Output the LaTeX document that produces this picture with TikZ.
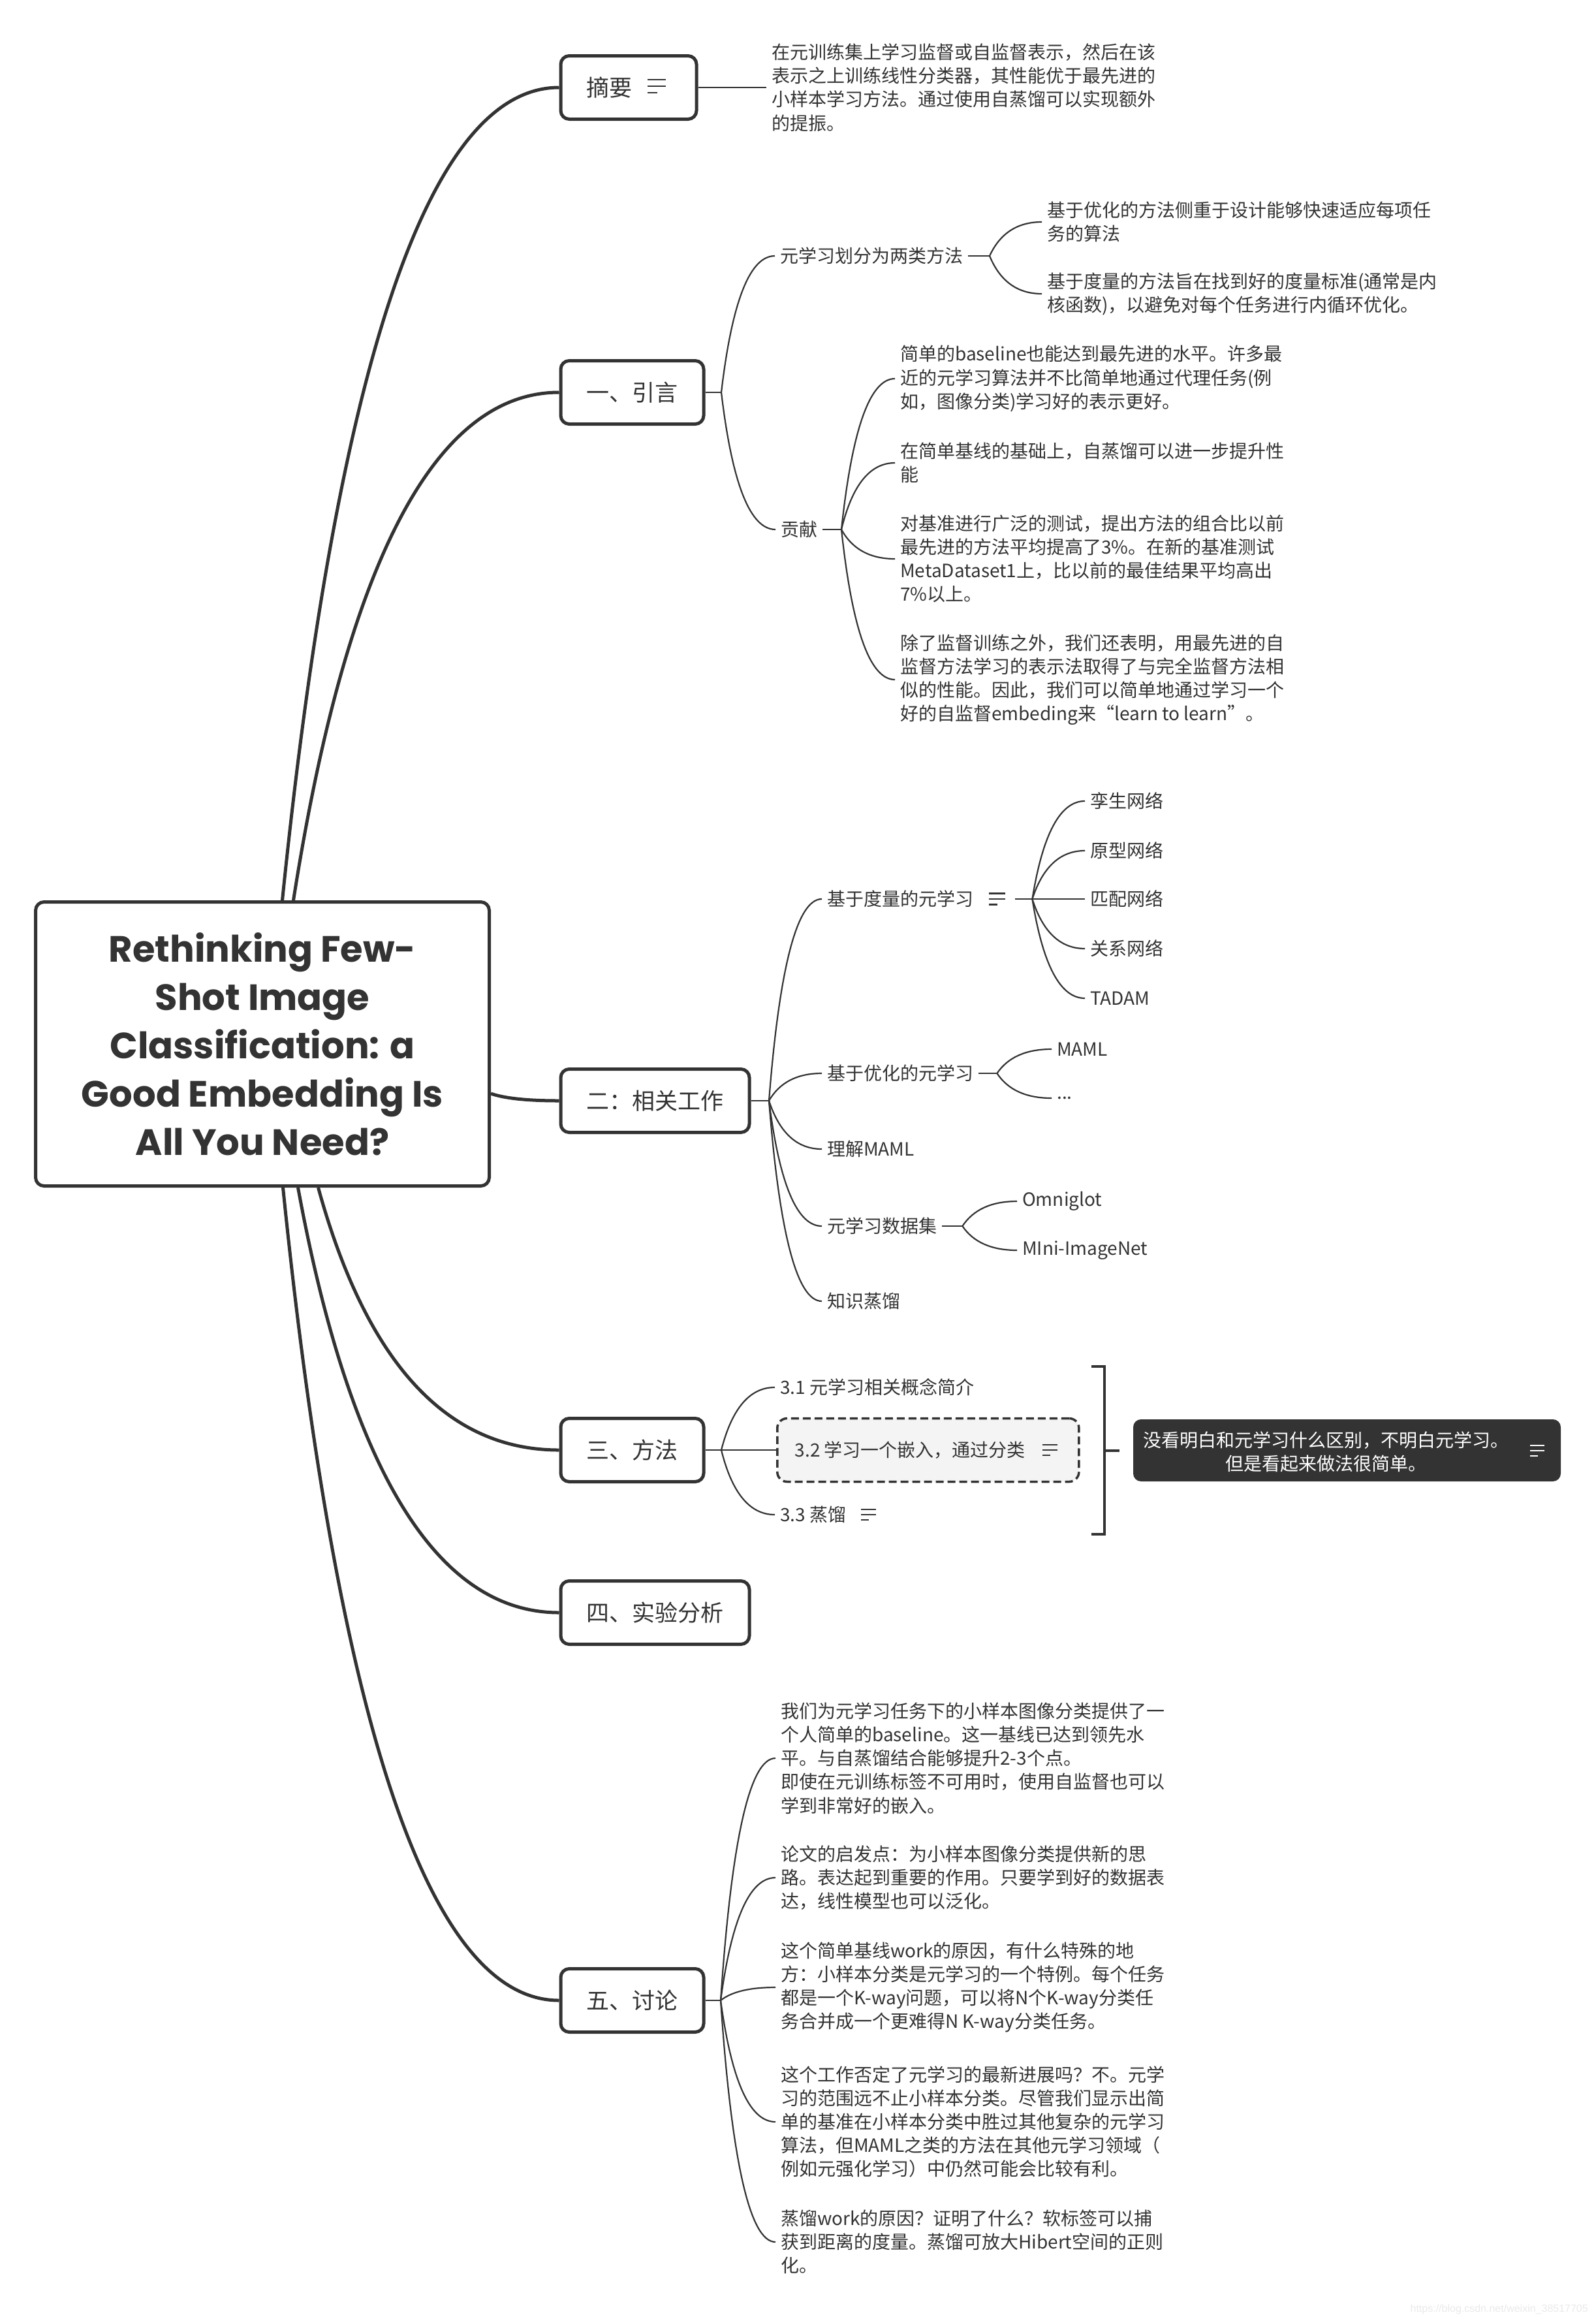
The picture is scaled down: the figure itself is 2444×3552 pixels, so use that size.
\documentclass[tikz,border=0pt]{standalone}
\usepackage{fontspec}
\setmainfont{Noto Sans CJK SC}
\newfontfamily\titlefont{Poppins}
\newfontfamily\wmfont{Liberation Sans}
\usetikzlibrary{calc}
\definecolor{ink}{HTML}{333333}
\definecolor{boxfill}{HTML}{F4F4F4}
\definecolor{wm}{HTML}{EAEAEA}
\begin{document}
\begin{tikzpicture}[x=1pt,y=-1pt,
  every node/.style={text=ink},
  rootbox/.style={draw=ink, line width=5pt, rounded corners=13pt, fill=white, minimum width=695pt, minimum height=435pt, align=center, font=\titlefont\bfseries\fontsize{56}{74}\selectfont, inner sep=0pt},
  topicbox/.style={draw=ink, line width=5pt, rounded corners=13pt, fill=white, minimum height=97pt, inner xsep=39.5pt, inner ysep=0pt, anchor=west, font=\fontsize{35}{42}\selectfont},
  leaf/.style={anchor=west, align=left, inner xsep=8pt, inner ysep=0pt, font=\fontsize{28}{36.2}\selectfont},
  dashbox/.style={draw=ink, dashed, dash pattern=on 12pt off 6pt, line width=3.5pt, rounded corners=15pt, fill=boxfill, minimum height=97pt, inner xsep=27pt, anchor=west, font=\fontsize{28}{36.2}\selectfont},
  sumbox/.style={fill=ink, draw=none, rounded corners=12pt, minimum width=655pt, minimum height=95pt},
  sumtext/.style={text=white, align=center, inner sep=0pt, font=\fontsize{28}{36.2}\selectfont},
  thickline/.style={draw=ink, line width=5pt},
  thinline/.style={draw=ink, line width=2.2pt},
  bracketline/.style={draw=ink, line width=4pt},
  branch/.style={to path={let \p1=(\tikztostart), \p2=(\tikztotarget) in .. controls ({\x1+0.2*(\x2-\x1)},{\y1+0.667*(\y2-\y1)}) and ({\x2-0.467*(\x2-\x1)},{\y2}) .. (\tikztotarget)}},
  noteicon/.pic={\draw[line width=2.7pt] (-14,-10)--(14,-10) (-14,0)--(14,0) (-14,10)--(1,10);}
]
\fill[white] (0,0) rectangle (2444,3552);
\useasboundingbox (0,0) rectangle (2444,3552);

% root
\node[rootbox] (root) at (402,1599) {Rethinking Few-\\Shot Image\\Classification: a\\Good Embedding Is\\All You Need?};

% topics
\node[topicbox] (abs) at (856.5,134) {摘要\hspace*{59pt}\mbox{}};
\node[topicbox] (intro) at (856.5,601) {一、引言};
\node[topicbox] (rel) at (856.5,1686) {二：相关工作};
\node[topicbox] (meth) at (856.5,2221) {三、方法};
\node[topicbox] (exp) at (856.5,2470) {四、实验分析};
\node[topicbox] (disc) at (856.5,3064) {五、讨论};
\pic[ink] at (1006,132) {noteicon};

% root connectors
\coordinate (rt1) at ($(root.north west)+(380.5,0)$);
\coordinate (rt2) at ($(root.north west)+(397.5,0)$);
\coordinate (rr) at ($(root.east)+(0,76)$);
\coordinate (rb3) at ($(root.south west)+(435.5,0)$);
\coordinate (rb4) at ($(root.south west)+(404.5,0)$);
\coordinate (rb5) at ($(root.south west)+(381.5,0)$);
\draw[thickline] (rt1) to[branch] (abs.west);
\draw[thickline] (rt2) to[branch] (intro.west);
\draw[thickline] (rr) to[branch] (rel.west);
\draw[thickline] (rb3) to[branch] (meth.west);
\draw[thickline] (rb4) to[branch] (exp.west);
\draw[thickline] (rb5) to[branch] (disc.west);

% abstract
\node[leaf] (absT) at (1174,134) {在元训练集上学习监督或自监督表示，然后在该\\表示之上训练线性分类器，其性能优于最先进的\\小样本学习方法。通过使用自蒸馏可以实现额外\\的提振。};
\draw[thinline] (abs.east) -- (absT.west);

% intro
\coordinate (fi) at (1105,601);
\draw[thinline] (intro.east) -- (fi);
\node[leaf] (c11) at (1187,392) {元学习划分为两类方法};
\node[leaf] (c12) at (1188,811) {贡献};
\draw[thinline] (fi) to[branch] (c11.west);
\draw[thinline] (fi) to[branch] (c12.west);
\coordinate (f11) at (1516,392);
\draw[thinline] (c11.east) -- (f11);
\node[leaf] (c111) at (1596,340) {基于优化的方法侧重于设计能够快速适应每项任\\务的算法};
\node[leaf] (c112) at (1596,450) {基于度量的方法旨在找到好的度量标准(通常是内\\核函数)，以避免对每个任务进行内循环优化。};
\draw[thinline] (f11) to[branch] (c111.west);
\draw[thinline] (f11) to[branch] (c112.west);
\coordinate (f12) at (1289,811);
\draw[thinline] (c12.east) -- (f12);
\node[leaf] (c121) at (1371,580) {简单的baseline也能达到最先进的水平。许多最\\近的元学习算法并不比简单地通过代理任务(例\\如，图像分类)学习好的表示更好。};
\node[leaf] (c122) at (1371,709) {在简单基线的基础上，自蒸馏可以进一步提升性\\能};
\node[leaf] (c123) at (1371,856) {对基准进行广泛的测试，提出方法的组合比以前\\最先进的方法平均提高了3\%。在新的基准测试\\MetaDataset1上，比以前的最佳结果平均高出\\7\%以上。};
\node[leaf] (c124) at (1371,1041) {除了监督训练之外，我们还表明，用最先进的自\\监督方法学习的表示法取得了与完全监督方法相\\似的性能。因此，我们可以简单地通过学习一个\\好的自监督embeding来“learn to learn”。};
\foreach \c in {c121,c122,c123,c124} {\draw[thinline] (f12) to[branch] (\c.west);}

% related work
\coordinate (fr) at (1178,1686);
\draw[thinline] (rel.east) -- (fr);
\node[leaf] (r1) at (1259,1377) {基于度量的元学习};
\node[leaf] (r2) at (1259,1644) {基于优化的元学习};
\node[leaf] (r3) at (1259,1760) {理解MAML};
\node[leaf] (r4) at (1259,1878) {元学习数据集};
\node[leaf] (r5) at (1259,1993) {知识蒸馏};
\foreach \r in {r1,r2,r3,r4,r5} {\draw[thinline] (fr) to[branch] (\r.west);}
\pic[ink, scale=0.88] at ($(r1.east)+(28,0)$) {noteicon};
\coordinate (r1s) at ($(r1.east)+(56,0)$);
\coordinate (fr1) at ($(r1.east)+(82,0)$);
\draw[thinline] (r1s) -- (fr1);
\node[leaf] (r11) at (1662,1227) {孪生网络};
\node[leaf] (r12) at (1662,1303) {原型网络};
\node[leaf] (r13) at (1662,1377) {匹配网络};
\node[leaf] (r14) at (1662,1453) {关系网络};
\node[leaf] (r15) at (1662,1529) {TADAM};
\foreach \c in {r11,r12,r13,r14,r15} {\draw[thinline] (fr1) to[branch] (\c.west);}
\coordinate (fr2) at ($(r2.east)+(28,0)$);
\draw[thinline] (r2.east) -- (fr2);
\node[leaf] (r21) at (1611,1607) {MAML};
\node[leaf] (r22) at (1611,1682) {...};
\draw[thinline] (fr2) to[branch] (r21.west);
\draw[thinline] (fr2) to[branch] (r22.west);
\coordinate (fr4) at ($(r4.east)+(31,0)$);
\draw[thinline] (r4.east) -- (fr4);
\node[leaf] (r41) at (1558,1840) {Omniglot};
\node[leaf] (r42) at (1558,1915) {MIni-ImageNet};
\draw[thinline] (fr4) to[branch] (r41.west);
\draw[thinline] (fr4) to[branch] (r42.west);

% method
\coordinate (fm) at (1105,2221);
\draw[thinline] (meth.east) -- (fm);
\node[leaf] (m1) at (1187,2125) {3.1 元学习相关概念简介};
\node[dashbox] (m2) at (1189,2221) {3.2 学习一个嵌入，通过分类\hspace*{55pt}\mbox{}};
\node[leaf] (m3) at (1187,2320) {3.3 蒸馏};
\draw[thinline] (fm) to[branch] (m1.west);
\draw[thinline] (fm) -- (m2.west);
\draw[thinline] (fm) to[branch] (m3.west);
\pic[ink, scale=0.8] at ($(m2.east)+(-46,0)$) {noteicon};
\pic[ink, scale=0.8] at ($(m3.east)+(26,0)$) {noteicon};
\coordinate (bt) at (1692,2093);
\coordinate (bb) at (1692,2350);
\draw[bracketline] ($(bt)+(-20,0)$) -- (bt) -- (bb) -- ($(bb)+(-20,0)$);
\draw[bracketline] (1692,2222) -- (1715,2222);
\node[sumbox] (summary) at (2063.5,2221.5) {};
\node[sumtext] (sumT) at (2031,2224) {没看明白和元学习什么区别，不明白元学习。\\但是看起来做法很简单。};
\pic[white, scale=0.8] at (2355,2222) {noteicon};

% discussion
\coordinate (fd) at (1104,3064);
\draw[thinline] (disc.east) -- (fd);
\node[leaf] (d1) at (1188,2693) {我们为元学习任务下的小样本图像分类提供了一\\个人简单的baseline。这一基线已达到领先水\\平。与自蒸馏结合能够提升2-3个点。\\即使在元训练标签不可用时，使用自监督也可以\\学到非常好的嵌入。};
\node[leaf] (d2) at (1188,2876) {论文的启发点：为小样本图像分类提供新的思\\路。表达起到重要的作用。只要学到好的数据表\\达，线性模型也可以泛化。};
\node[leaf] (d3) at (1188,3044) {这个简单基线work的原因，有什么特殊的地\\方：小样本分类是元学习的一个特例。每个任务\\都是一个K-way问题，可以将N个K-way分类任\\务合并成一个更难得N K-way分类任务。};
\node[leaf] (d4) at (1188,3250) {这个工作否定了元学习的最新进展吗？不。元学\\习的范围远不止小样本分类。尽管我们显示出简\\单的基准在小样本分类中胜过其他复杂的元学习\\算法，但MAML之类的方法在其他元学习领域（\\例如元强化学习）中仍然可能会比较有利。};
\node[leaf] (d5) at (1188,3434) {蒸馏work的原因？证明了什么？软标签可以捕\\获到距离的度量。蒸馏可放大Hibert空间的正则\\化。};
\foreach \d in {d1,d2,d3,d4,d5} {\draw[thinline] (fd) to[branch] (\d.west);}

% watermark
\node[anchor=south east, inner sep=0pt, text=wm, font=\wmfont\fontsize{16}{18}\selectfont] (wmk) at (2433,3545) {https://blog.csdn.net/weixin\_38517705};
\end{tikzpicture}
\end{document}
